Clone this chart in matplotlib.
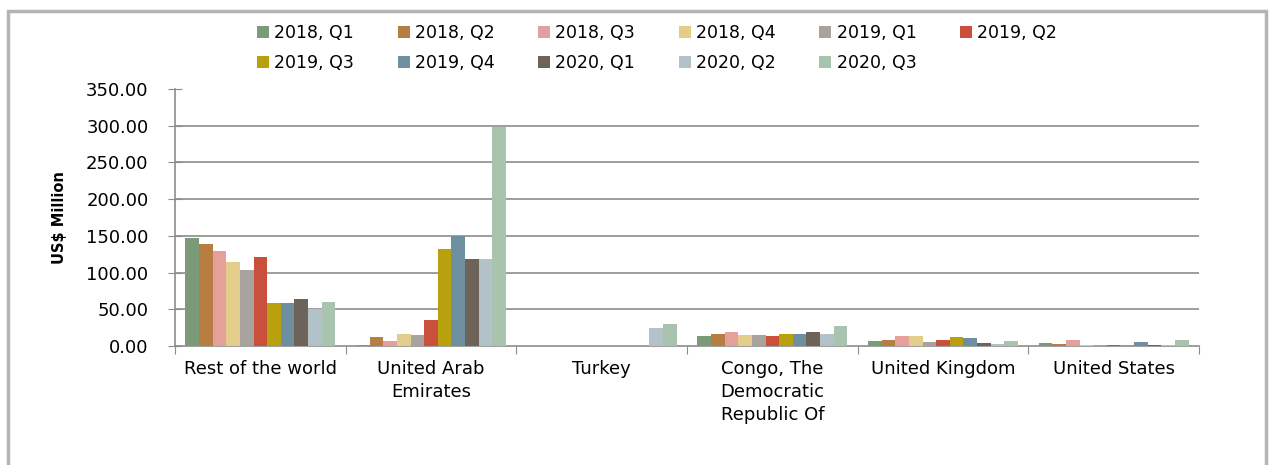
import numpy as np
import matplotlib.pyplot as plt
from matplotlib.patches import Rectangle

categories = ['Rest of the world', 'United Arab\nEmirates', 'Turkey',
              'Congo, The\nDemocratic\nRepublic Of', 'United Kingdom', 'United States']

quarters = ['2018, Q1', '2018, Q2', '2018, Q3', '2018, Q4', '2019, Q1', '2019, Q2',
            '2019, Q3', '2019, Q4', '2020, Q1', '2020, Q2', '2020, Q3']

q2018_1 = [147, 2, 0, 13.5, 7, 3.5]
q2018_2 = [139, 12, 0, 16, 8, 3]
q2018_3 = [129, 7, 0, 19, 13.5, 8.5]
q2018_4 = [114, 17, 0, 15, 13.5, 2]
q2019_1 = [103, 15, 0, 15, 5, 1]
q2019_2 = [121, 35, 0, 14, 8, 1]
q2019_3 = [58, 132, 0, 16, 12.5, 2]
q2019_4 = [58, 150, 0, 16, 10.5, 5]
q2020_1 = [63.5, 118, 0, 19.5, 4, 2]
q2020_2 = [50, 118, 25, 17, 3, 1]
q2020_3 = [60, 298, 29.5, 27, 7, 8]

series = [q2018_1, q2018_2, q2018_3, q2018_4, q2019_1, q2019_2,
          q2019_3, q2019_4, q2020_1, q2020_2, q2020_3]

colors = ['#7a9a78', '#b87d43', '#e5a199', '#e2cd8a', '#a8a39f', '#c9503a',
          '#b9a00d', '#6e8fa0', '#6e6359', '#b3c2c8', '#a8c4ae']

plt.rcParams['font.family'] = ['DejaVu Sans']

fig = plt.figure(figsize=(12.69, 4.65), dpi=100)
ax = fig.add_axes([175/1269, 1-346/465, (1199-175)/1269, (346-89)/465])

# outer frame
fig.patches.append(Rectangle((8/1269, -0.05), (1266-8)/1269, 1.05-11/465,
                             transform=fig.transFigure, fill=False,
                             edgecolor='#b4b4b4', lw=2.5))

n = len(series)
group_w = 0.877
bw = group_w/n
x = np.arange(len(categories))
handles = []
for i, vals in enumerate(series):
    pos = x - group_w/2 + bw*(i+0.5)
    h = ax.bar(pos, vals, width=bw, color=colors[i], label=quarters[i], zorder=3)
    handles.append(h)

ax.set_xlim(-0.5, len(categories)-0.5)
ax.set_ylim(0, 350)
ax.set_yticks(np.arange(0, 351, 50))
ax.set_yticklabels(['%.2f' % v for v in np.arange(0, 351, 50)], fontsize=13)
for v in range(50, 301, 50):
    ax.axhline(v, color='#8c8c8c', lw=1.2, zorder=1)

ax.set_xticks(np.arange(-0.5, len(categories)), minor=False)
ax.set_xticklabels([])
ax.set_xticks(x, minor=True)
ax.set_xticklabels(categories, minor=True, fontsize=13, linespacing=1.35, va='top')
ax.tick_params(axis='x', which='minor', length=0, pad=10)
ax.tick_params(axis='x', which='major', length=6, color='#8c8c8c')
ax.tick_params(axis='y', direction='inout', length=10, color='#8c8c8c', pad=14)

for s in ['top', 'right']:
    ax.spines[s].set_visible(False)
for s in ['left', 'bottom']:
    ax.spines[s].set_color('#8c8c8c')
    ax.spines[s].set_linewidth(1.2)

ax.set_ylabel('US$ Million', fontsize=10.5, fontweight='bold', labelpad=14)

order = [0, 6, 1, 7, 2, 8, 3, 9, 4, 10, 5]
fig.legend([handles[i] for i in order], [quarters[i] for i in order],
           ncol=6, loc='center', bbox_to_anchor=(657/1269, 1-48/465),
           frameon=False, fontsize=12.5, handlelength=0.7, handleheight=0.7,
           handletextpad=0.3, columnspacing=2.5, labelspacing=0.7)

fig.savefig('out.png', dpi=100)
